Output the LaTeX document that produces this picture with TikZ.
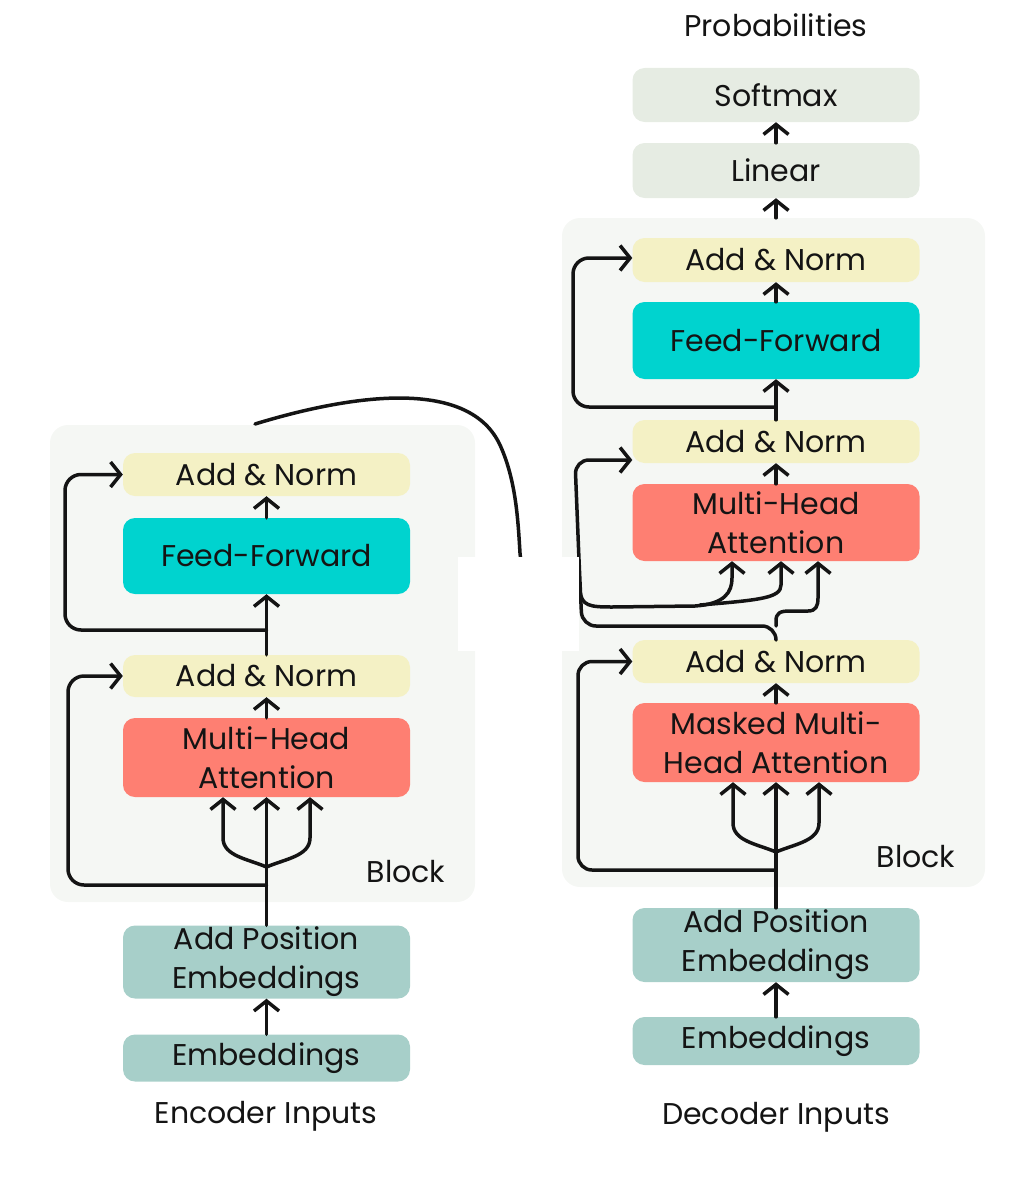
\documentclass[tikz,border=0pt]{standalone}
\usepackage{fontspec}
\setmainfont{Poppins}
\usetikzlibrary{arrows.meta}
\definecolor{blockbg}{HTML}{F5F7F4}
\definecolor{addnorm}{HTML}{F4F1C5}
\definecolor{ffc}{HTML}{00D3CF}
\definecolor{attc}{HTML}{FE7F72}
\definecolor{embc}{HTML}{A7CFC9}
\definecolor{outc}{HTML}{E6ECE3}
\definecolor{ink}{HTML}{141414}
\begin{document}
\begin{tikzpicture}[x=1pt,y=-1pt,
  every node/.style={text=ink, font=\fontsize{30}{39}\selectfont},
  box/.style={rounded corners=12pt, minimum width=287pt, align=center, inner sep=0pt},
  bg/.style={fill=blockbg, rounded corners=18pt, inner sep=0pt},
  wire/.style={draw=ink, line width=3.5pt, line cap=round, line join=round},
  arr/.style={wire, -{Straight Barb[length=10pt,width=25pt]}}]
\useasboundingbox (0,0) rectangle (1024,1199);
% block backgrounds
\node[bg, minimum width=425pt, minimum height=477pt] (eBlock) at (262.5,663.5) {};
\node[bg, minimum width=423pt, minimum height=669pt] (dBlock) at (773.5,552.5) {};
% encoder boxes
\node[box, fill=addnorm, minimum height=43pt] (eAN2) at (266.5,474.5) {Add \& Norm};
\node[box, fill=ffc, minimum height=76pt] (eFF) at (266.5,556) {Feed-Forward};
\node[box, fill=addnorm, minimum height=42pt] (eAN1) at (266.5,676) {Add \& Norm};
\node[box, fill=attc, minimum height=79pt] (eMHA) at (266.5,757.5) {Multi-Head\\Attention};
\node[box, fill=embc, minimum height=73pt] (eAPE) at (266.5,962) {Add Position\\Embeddings};
\node[box, fill=embc, minimum height=47pt] (eEmb) at (266.5,1058) {Embeddings};
% decoder boxes
\node[box, fill=outc, minimum height=54pt] (dSoft) at (776,95) {Softmax};
\node[box, fill=outc, minimum height=55pt] (dLin) at (776,170.5) {Linear};
\node[box, fill=addnorm, minimum height=44pt] (dAN3) at (776,260) {Add \& Norm};
\node[box, fill=ffc, minimum height=77pt] (dFF) at (776,340.5) {Feed-Forward};
\node[box, fill=addnorm, minimum height=43pt] (dAN2) at (776,441.5) {Add \& Norm};
\node[box, fill=attc, minimum height=77pt] (dMHA) at (776,522.5) {Multi-Head\\Attention};
\node[box, fill=addnorm, minimum height=43pt] (dAN1) at (776,661.5) {Add \& Norm};
\node[box, fill=attc, minimum height=79pt] (dMMHA) at (776,742.5) {Masked Multi-\\Head Attention};
\node[box, fill=embc, minimum height=74pt] (dAPE) at (776,945) {Add Position\\Embeddings};
\node[box, fill=embc, minimum height=48pt] (dEmb) at (776,1041) {Embeddings};
% labels
\node (prob) at (776,25) {Probabilities};
\node (encIn) at (266,1116) {Encoder Inputs};
\node (decIn) at (776,1117) {Decoder Inputs};
\node (eBlk) at (406,872) {Block};
\node (dBlk) at (916,857) {Block};
% encoder wiring
\draw[arr] (eEmb.north) -- (eAPE.south);
\draw[arr] (eAPE.north) -- (eMHA.south);
\draw[arr] (266.5,867) .. controls (248,859) and (223,856) .. (223,838) -- ([xshift=-43.5pt]eMHA.south);
\draw[arr] (266.5,867) .. controls (285,859) and (310,856) .. (310,838) -- ([xshift=43.5pt]eMHA.south);
\draw[arr, rounded corners=16pt] (266.5,885) -- (68,885) -- (68,676) -- (eAN1.west);
\draw[arr] (eMHA.north) -- (eAN1.south);
\draw[arr] (eAN1.north) -- (eFF.south);
\draw[arr, rounded corners=16pt] (266.5,630) -- (65,630) -- (65,474.5) -- (eAN2.west);
\draw[arr] (eFF.north) -- (eAN2.south);
% encoder output to decoder cross-attention
\coordinate (encOut) at (255,424);
\draw[arr] (encOut) .. controls (360,392) and (470,380) .. (500,445)
  .. controls (516,480) and (518,520) .. (520,553)
  .. controls (522,590) and (578,570) .. (580,590)
  .. controls (581,606) and (590,607) .. (612,607) -- (695,606)
  .. controls (725,604) and (732,592) .. (732,578) -- ([xshift=-44pt]dMHA.south);
\draw[arr] (700,605) .. controls (760,600) and (781,598) .. (781,585) -- ([xshift=5pt]dMHA.south);
% decoder wiring
\draw[arr] (dEmb.north) -- (dAPE.south);
\draw[arr] (dAPE.north) -- (dMMHA.south);
\draw[arr] (776,852) .. controls (757,844) and (733,841) .. (733,823) -- ([xshift=-43pt]dMMHA.south);
\draw[arr] (776,852) .. controls (795,844) and (819,841) .. (819,823) -- ([xshift=43pt]dMMHA.south);
\draw[arr, rounded corners=14pt] (776,870) -- (578,870) -- (578,661.5) -- (dAN1.west);
\draw[arr] (dMMHA.north) -- (dAN1.south);
\draw[arr] (776,626) -- (776,621) .. controls (776,613) and (780,611) .. (790,611) -- (808,611)
  .. controls (816,611) and (818,606) .. (818,598) -- ([xshift=42pt]dMHA.south);
\draw[arr, rounded corners=14pt] (dAN1.north) -- (776,626) -- (582,626) -- (579,560) -- (575,460) -- (dAN2.west |- 0,460);
\draw[arr] (dMHA.north) -- (dAN2.south);
\draw[arr] (dAN2.north) -- (dFF.south);
\draw[arr, rounded corners=16pt] (776,407) -- (573,407) -- (573,258) -- (dAN3.west |- 0,258);
\draw[arr] (dFF.north) -- (dAN3.south);
\draw[arr] (dBlock.north -| dLin.south) -- (dLin.south);
\draw[arr] (dLin.north) -- (dSoft.south);
% erased patch between the two blocks
\fill[white] (458,557) rectangle (579,651);
\end{tikzpicture}
\end{document}
